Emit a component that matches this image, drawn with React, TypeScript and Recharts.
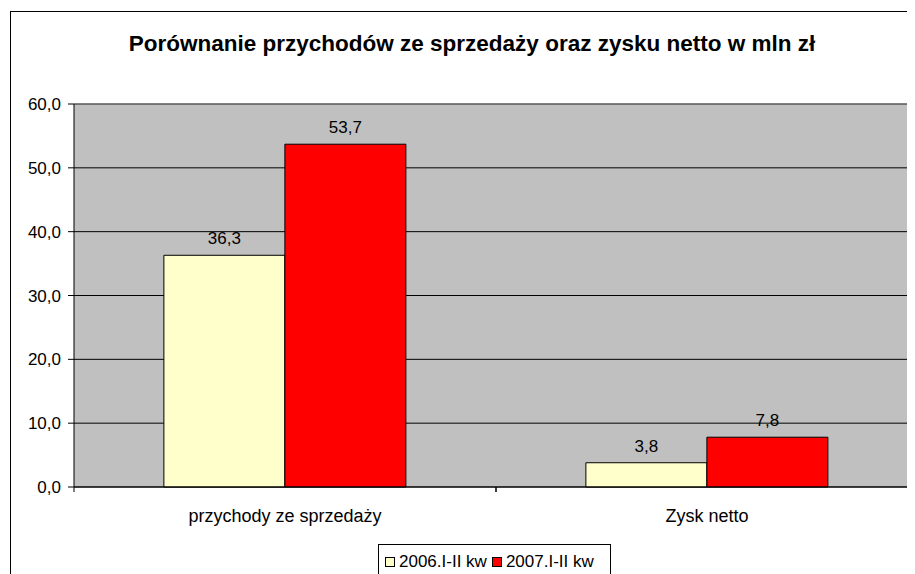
import React from "react";
import { BarChart, Bar, XAxis, YAxis, CartesianGrid, LabelList, ReferenceLine } from "recharts";

const categories = ["przychody ze sprzedaży", "Zysk netto"];
const series2006 = [36.3, 3.8];
const series2007 = [53.7, 7.8];
const seriesNames = ["2006.I-II kw", "2007.I-II kw"];
const seriesColors = ["#FFFFCC", "#FF0000"];
const yTicks = [0, 10, 20, 30, 40, 50, 60];
const title = "Porównanie przychodów ze sprzedaży oraz zysku netto w mln zł";

const data = categories.map((c, i) => ({ name: c, s2006: series2006[i], s2007: series2007[i] }));

const FONT = "'Liberation Sans', Arial, sans-serif";
const fmt = (v: number) => v.toFixed(1).replace(".", ",");

const CHART_W = 930;
const CHART_H = 600;
const MARGIN = { top: 96, right: 20, bottom: 91, left: 0 };
const Y_W = 66;
const X_H = 30;
const FS = 17;

const XTick = (props: any) => {
  const { x, y, payload } = props;
  const plotW = CHART_W - MARGIN.left - MARGIN.right - Y_W;
  const half = payload && payload.offset ? payload.offset : plotW / categories.length / 2;
  return (
    <g>
      <line x1={x - half} x2={x - half} y1={y} y2={y + 5} stroke="#000" />
      <line x1={x + half} x2={x + half} y1={y} y2={y + 5} stroke="#000" />
      <text x={x} y={y + 35} textAnchor="middle" fontFamily={FONT} fontSize={18} fill="#000">
        {payload.value}
      </text>
    </g>
  );
};

export default function App() {
  return (
    <div style={{ position: "relative", width: 907, height: 566, overflow: "hidden" }}>
      <div
        style={{
          position: "absolute",
          left: 2,
          top: 3,
          width: 1000,
          height: 1000,
          border: "1px solid #000",
          boxSizing: "border-box",
        }}
      />
      <div
        style={{
          position: "absolute",
          left: 0,
          top: 23,
          width: 928,
          textAlign: "center",
          fontFamily: FONT,
          fontWeight: "bold",
          fontSize: 22.5,
          color: "#000",
          lineHeight: "26px",
          whiteSpace: "nowrap",
        }}
      >
        {title}
      </div>
      <div style={{ position: "absolute", left: 0, top: 0 }}>
        <BarChart
          width={CHART_W}
          height={CHART_H}
          data={data}
          margin={MARGIN}
          barCategoryGap="21.3%"
          barGap={0}
        >
          <CartesianGrid vertical={false} stroke="#000" fill="#C0C0C0" fillOpacity={1} />
          <ReferenceLine y={60} stroke="#808080" strokeWidth={1} />
          <XAxis
            dataKey="name"
            height={X_H}
            tickSize={0}
            tickMargin={0}
            axisLine={{ stroke: "#000" }}
            tickLine={false}
            tick={<XTick />}
            interval={0}
          />
          <YAxis
            width={Y_W}
            domain={[0, 60]}
            ticks={yTicks}
            tickFormatter={fmt}
            tickSize={6}
            tickMargin={7}
            axisLine={{ stroke: "#000" }}
            tickLine={{ stroke: "#000" }}
            tick={{ fontFamily: FONT, fontSize: FS, fill: "#000" }}
            interval={0}
          />
          <Bar dataKey="s2006" fill={seriesColors[0]} stroke="#000" strokeWidth={1} isAnimationActive={false}>
            <LabelList dataKey="s2006" position="top" offset={11} formatter={fmt} fontFamily={FONT} fontSize={FS} fill="#000" />
          </Bar>
          <Bar dataKey="s2007" fill={seriesColors[1]} stroke="#000" strokeWidth={1} isAnimationActive={false}>
            <LabelList dataKey="s2007" position="top" offset={11} formatter={fmt} fontFamily={FONT} fontSize={FS} fill="#000" />
          </Bar>
        </BarChart>
      </div>
      <div
        style={{
          position: "absolute",
          left: 370,
          top: 536,
          width: 233,
          height: 60,
          border: "1px solid #000",
          boxSizing: "border-box",
          background: "#fff",
          fontFamily: FONT,
          fontSize: FS,
          color: "#000",
          display: "flex",
          alignItems: "flex-start",
          paddingTop: 7,
          paddingLeft: 6,
          whiteSpace: "nowrap",
          lineHeight: "20px",
        }}
      >
        {seriesNames.map((n, i) => (
          <span key={n} style={{ display: "inline-flex", alignItems: "center", marginRight: i === 0 ? 5 : 0 }}>
            <span
              style={{
                display: "inline-block",
                width: 10,
                height: 10,
                border: "1px solid #000",
                boxSizing: "border-box",
                background: seriesColors[i],
                marginRight: 4,
              }}
            />
            {n}
          </span>
        ))}
      </div>
    </div>
  );
}
